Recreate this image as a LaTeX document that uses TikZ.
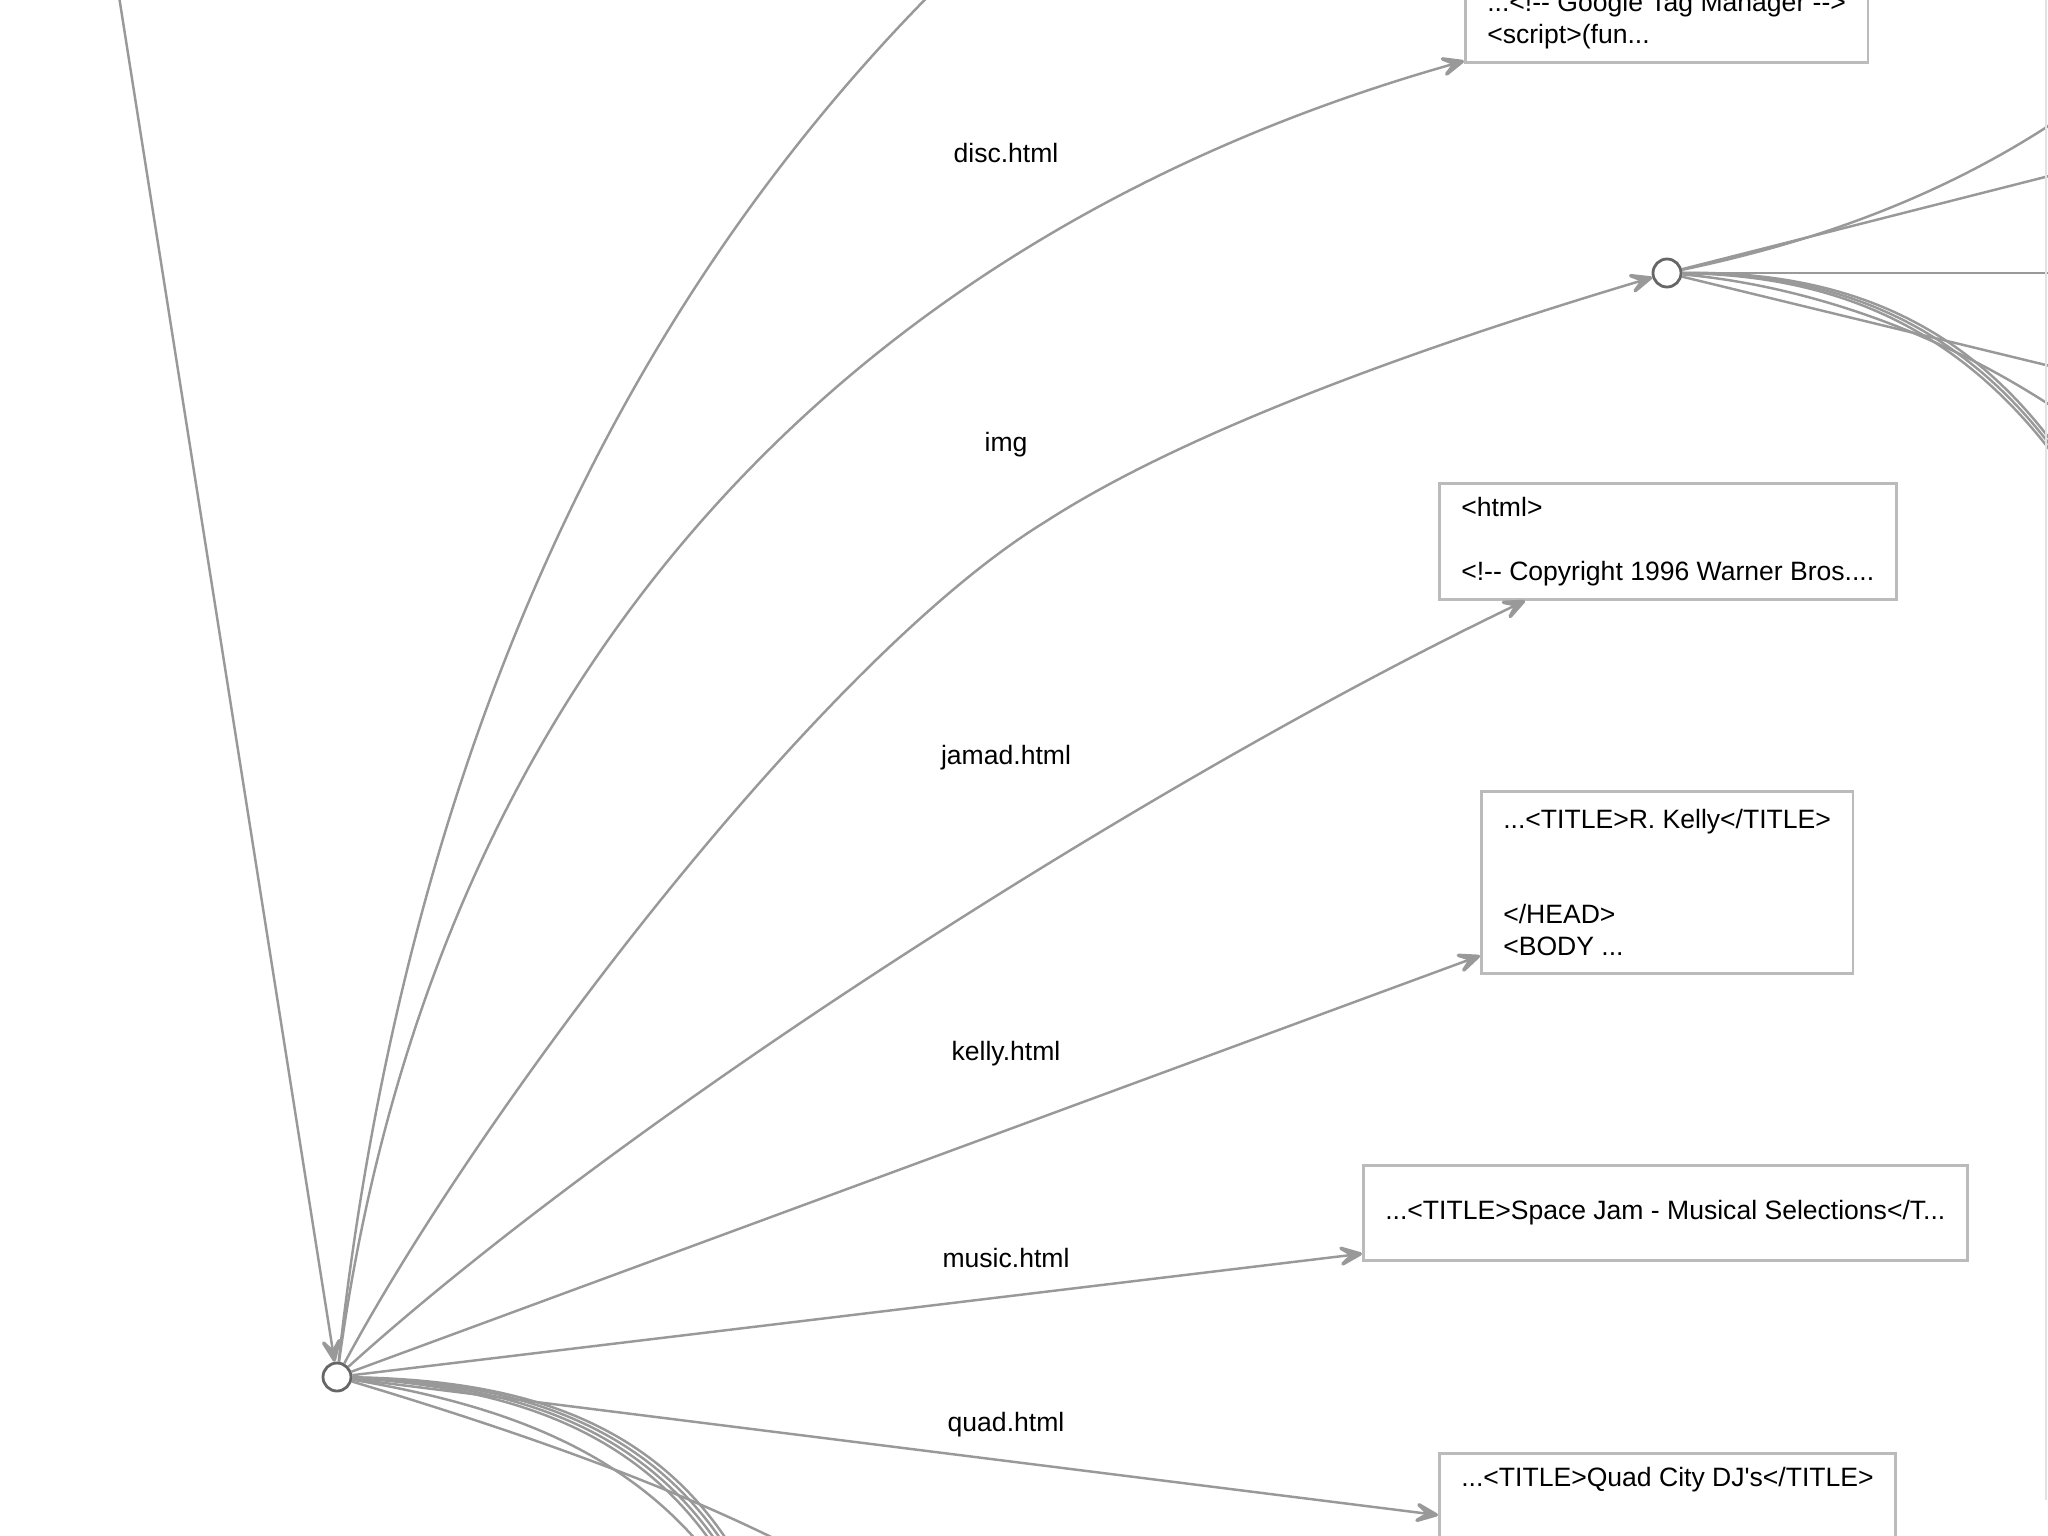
\documentclass[tikz,border=0pt]{standalone}
\usepackage{fontspec}
\setmainfont{Liberation Sans}
\usetikzlibrary{arrows.meta}
\definecolor{edgegray}{HTML}{999999}
\definecolor{boxgray}{HTML}{BBBBBB}
\definecolor{dirgray}{HTML}{666666}
\definecolor{framegray}{HTML}{E2E2E2}
\tikzstyle{edge} = [edgegray, line width=0.7pt]
\tikzstyle{diredge} = [edge, -{Stealth[length=10pt,width=8.5pt,inset=5.6pt,line width=1pt,round]}]
\tikzstyle{page} = [draw=boxgray, line width=0.75pt, fill=white, inner xsep=0.22cm,
  inner ysep=0.1cm, align=left, anchor=north west]
\tikzstyle{dir} = [circle, draw=dirgray, line width=0.8pt, fill=white,
  minimum size=0.28cm, inner sep=0pt]
\tikzstyle{lbl} = [inner sep=0pt]

\begin{document}
\begin{tikzpicture}[x=0.01cm, y=-0.01cm,
    every node/.style={font=\fontsize{7.55pt}{9.07pt}\selectfont}]
    \useasboundingbox (0,0) rectangle (2048,1536);

    \node[dir] (sitedir) at (337,1377) {};
    \node[dir] (imgdir) at (1667,273) {};

    \node[page,anchor=south west,minimum height=0.84cm] (discpage) at (1464,64)
        {...<!-{}- Google Tag Manager -{}->\\<script>(fun...};
    \node[page,minimum height=1.16cm] (jamadpage) at (1438,482)
        {<html>\\[\baselineskip]<!-{}- Copyright 1996 Warner Bros....};
    \node[page,minimum height=1.82cm] (kellypage) at (1480,790)
        {...<TITLE>R. Kelly</TITLE>\\[2\baselineskip]</HEAD>\\<BODY ...};
    \node[page,minimum height=0.95cm] (musicpage) at (1362,1164)
        {...<TITLE>Space Jam - Musical Selections</T...};
    \node[page,inner ysep=0.14cm] (quadpage) at (1438,1452)
        {...<TITLE>Quad City DJ\textquotesingle s</TITLE>\\[\baselineskip]~};

    \node[lbl] (ldisc) at (1006,153) {disc.html};
    \node[lbl] (limg) at (1006,445) {img};
    \node[lbl] (ljamad) at (1006,758) {jamad.html};
    \node[lbl] (lkelly) at (1006,1054) {kelly.html};
    \node[lbl] (lmusic) at (1006,1258) {music.html};
    \node[lbl] (lquad) at (1006,1425) {quad.html};

    \coordinate (upin) at (88,-200);
    \coordinate (upout) at (1090,-150);
    \coordinate (dn1) at (950,1640);
    \coordinate (dn2) at (750,1600);
    \coordinate (dn3) at (755,1600);
    \coordinate (dn4) at (745,1600);
    \coordinate (dn5) at (760,1600);
    \coordinate (dn6) at (740,1600);
    \coordinate (rt1) at (2100,90);
    \coordinate (rt2) at (2120,158);
    \coordinate (rt3) at (2120,273);
    \coordinate (rt4) at (2120,383);
    \coordinate (rt5) at (2100,440);
    \coordinate (rt6) at (2075,480);
    \coordinate (rt7) at (2073,482);
    \coordinate (rt8) at (2077,478);

    \draw[diredge] (upin) -- (sitedir);
    \draw[diredge] (sitedir) .. controls (420,620) and (720,150) .. (upout);
    \draw[diredge] (sitedir) .. controls (440,620) and (900,220) .. ([yshift=0.03cm]discpage.south west);
    \draw[diredge] (sitedir) .. controls (480,1110) and (820,660) .. (1045,522)
        .. controls (1213,413) and (1510,320) .. (imgdir);
    \draw[diredge] (sitedir) .. controls (634,1109) and (1165,773) .. ([xshift=0.87cm]jamadpage.south west);
    \draw[diredge] (sitedir) -- ([yshift=0.19cm]kellypage.south west);
    \draw[diredge] (sitedir) -- ([yshift=0.08cm]musicpage.south west);
    \draw[diredge] (sitedir) -- ([yshift=-0.63cm]quadpage.north west);
    \draw[diredge] (sitedir) .. controls (637,1467) and (800,1540) .. (dn1);
    \draw[diredge] (sitedir) .. controls (520,1385) and (665,1430) .. (dn2);
    \draw[diredge] (sitedir) .. controls (520,1382) and (670,1425) .. (dn3);
    \draw[diredge] (sitedir) .. controls (515,1388) and (660,1433) .. (dn4);
    \draw[diredge] (sitedir) .. controls (525,1380) and (675,1422) .. (dn5);
    \draw[diredge] (sitedir) .. controls (500,1405) and (645,1450) .. (dn6);

    \draw[diredge] (imgdir) .. controls (1800,245) and (1950,200) .. (rt1);
    \draw[diredge] (imgdir) -- (rt2);
    \draw[diredge] (imgdir) -- (rt3);
    \draw[diredge] (imgdir) -- (rt4);
    \draw[diredge] (imgdir) .. controls (1800,285) and (1950,330) .. (rt5);
    \draw[diredge] (imgdir) .. controls (1830,273) and (1965,318) .. (rt6);
    \draw[diredge] (imgdir) .. controls (1825,275) and (1960,320) .. (rt7);
    \draw[diredge] (imgdir) .. controls (1835,271) and (1970,316) .. (rt8);

    \draw[framegray, line width=0.6pt] (2046,0) -- (2046,1500);
\end{tikzpicture}
\end{document}
